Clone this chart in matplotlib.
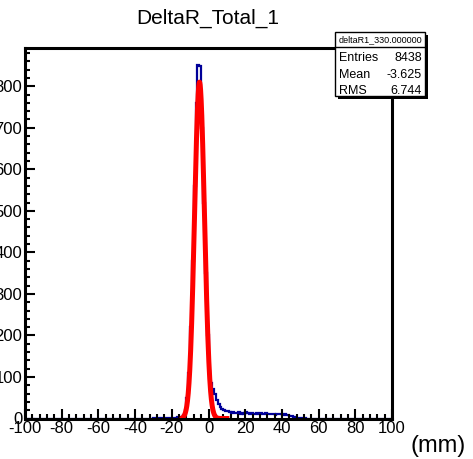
import matplotlib.pyplot as plt
import matplotlib.patches as mpatches
from matplotlib.ticker import MultipleLocator
import numpy as np

plt.rcParams['font.family'] = ['Liberation Sans', 'DejaVu Sans']
plt.rcParams['axes.unicode_minus'] = False

W, H = 473, 459

# histogram: 1 mm bins from -100 to 100, non-zero region
bin_edges = np.arange(-100, 101, 1)
first_bin = -30
counts_nonzero = [
    1, 0, 1, 0, 1, 1, 0, 2, 1, 1, 2, 1, 2, 3, 3,          # -30 .. -16
    3, 8, 20, 50, 110, 220, 380, 560, 760, 852,           # -15 .. -6
    848, 700, 520, 350, 200, 115, 85, 70, 58, 45,         # -5 .. 4
    36, 28, 24, 20, 18, 17, 15, 14, 16, 13,               # 5 .. 14
    13, 15, 12, 14, 11, 15, 13, 12, 14, 10,               # 15 .. 24
    12, 13, 11, 14, 12, 10, 13, 11, 12, 10,               # 25 .. 34
    11, 9, 12, 10, 11, 9, 10, 8, 9, 7,                    # 35 .. 44
    6, 3, 2, 2, 1, 1, 0, 1,                               # 45 .. 52
]
counts = np.zeros(len(bin_edges) - 1)
i0 = first_bin - (-100)
counts[i0:i0 + len(counts_nonzero)] = counts_nonzero

# gaussian fit parameters and fit range
fit_const, fit_mean, fit_sigma = 810.0, -4.9, 2.7
fit_range = (-14.0, 10.0)

stats_name = 'deltaR1_330.000000'
stats_rows = [('Entries', '8438'), ('Mean', '-3.625'), ('RMS', '6.744')]


def fx(px):
    return px / W


def fy(py):
    return 1 - py / H


fig = plt.figure(figsize=(W / 100, H / 100), dpi=100)
ax = fig.add_axes([fx(25), fy(418.5), (392 - 25) / W, (418.5 - 48) / H])

ax.stairs(counts, bin_edges, color='#000099', lw=1.6)
xf = np.linspace(fit_range[0], fit_range[1], 400)
ax.plot(xf, fit_const * np.exp(-0.5 * ((xf - fit_mean) / fit_sigma) ** 2),
        color='red', lw=3.6)

ax.set_xlim(-100, 100)
ax.set_ylim(0, 892)
ax.xaxis.set_major_locator(MultipleLocator(20))
ax.xaxis.set_minor_locator(MultipleLocator(4))
ax.yaxis.set_major_locator(MultipleLocator(100))
ax.yaxis.set_minor_locator(MultipleLocator(20))
ax.tick_params(which='both', direction='in', width=1.5, labelsize=12)
ax.tick_params(which='major', length=7)
ax.tick_params(which='minor', length=3.5)
ax.tick_params(axis='x', pad=2)
ax.tick_params(axis='y', pad=2)
for s in ax.spines.values():
    s.set_linewidth(2.2)

fig.text(fx(208), fy(18), 'DeltaR_Total_1', ha='center', va='center', fontsize=15)
fig.text(fx(438), fy(446), '(mm)', ha='center', va='center', fontsize=17)

# stats box with shadow, ROOT style
bl, br, bt, bb = 335, 425, 32, 96
fig.patches.append(mpatches.Rectangle((fx(bl + 3), fy(bb + 3)), (br - bl) / W, (bb - bt) / H,
                                      transform=fig.transFigure, facecolor='black',
                                      edgecolor='none', zorder=5))
fig.patches.append(mpatches.Rectangle((fx(bl), fy(bb)), (br - bl) / W, (bb - bt) / H,
                                      transform=fig.transFigure, facecolor='white',
                                      edgecolor='black', lw=1.0, zorder=6))
fig.add_artist(plt.Line2D([fx(bl), fx(br)], [fy(47), fy(47)], transform=fig.transFigure,
                          color='black', lw=1.0, zorder=7))
fig.text(fx((bl + br) / 2), fy(40), stats_name, ha='center', va='center',
         fontsize=6.5, zorder=8)
for k, (lab, val) in enumerate(stats_rows):
    y = fy(58 + k * 16.5)
    fig.text(fx(bl + 4), y, lab, ha='left', va='center', fontsize=9, zorder=8)
    fig.text(fx(br - 3), y, val, ha='right', va='center', fontsize=9, zorder=8)

fig.savefig('out.png', dpi=100)
